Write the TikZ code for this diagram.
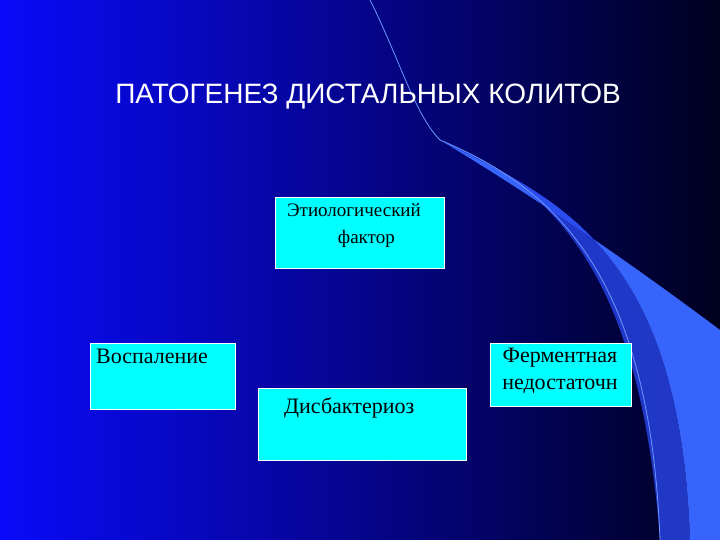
\documentclass[tikz,border=0pt]{standalone}
\usepackage{fontspec}
\setmainfont{Liberation Serif}
\newfontfamily\titlefont{Liberation Sans}
\definecolor{bgL}{RGB}{10,10,250}
\definecolor{bgM}{RGB}{5,5,170}
\definecolor{bgR}{RGB}{0,0,30}
\definecolor{sw1}{RGB}{55,100,250}
\definecolor{sw2}{RGB}{40,70,235}
\definecolor{swl}{RGB}{110,150,255}
\definecolor{cyanbox}{RGB}{0,255,255}
\begin{document}
\begin{tikzpicture}[x=1pt,y=-1pt,
  box/.style={draw=white,line width=0.8pt,fill=cyanbox,inner sep=0pt,anchor=north west},
  lbl/.style={font=\fontsize{22}{27}\selectfont,text=black,inner sep=0pt,align=center}]
\useasboundingbox (0,0) rectangle (720,540);
\shade[left color=bgL,middle color=bgM,right color=bgR] (0,0) rectangle (720,540);
\fill[sw1] (440,140) .. controls (560,200) and (680,250) .. (690,540) -- (720,540) -- (720,330) .. controls (640,270) and (540,200) .. (440,140) -- cycle;
\fill[sw2,opacity=0.8] (440,140) .. controls (560,190) and (640,280) .. (660,540) -- (690,540) .. controls (680,250) and (560,200) .. (440,140);
\draw[swl,line width=0.8pt] (370,0) .. controls (400,60) and (415,115) .. (440,140) .. controls (560,190) and (650,280) .. (660,540);
\node[text=white,font=\titlefont\fontsize{28}{32}\selectfont,inner sep=0pt] (t) at (368,97) {ПАТОГЕНЕЗ ДИСТАЛЬНЫХ КОЛИТОВ};
\node[box,minimum width=169,minimum height=71] (b1) at (275,197) {};
\node[box,minimum width=145,minimum height=66] (b2) at (90,343) {};
\node[box,minimum width=208,minimum height=72] (b3) at (258,388) {};
\node[box,minimum width=141,minimum height=63] (b4) at (490,343) {};
\node[lbl,anchor=north,font=\fontsize{19}{27}\selectfont] (l1) at (354,203) {Этиологический\\\hspace*{1.3em}фактор};
\node[lbl,anchor=north west] (l2) at (96,349) {Воспаление};
\node[lbl,anchor=north west] (l3) at (284,398) {Дисбактериоз};
\node[lbl,anchor=north] (l4) at (560,348) {Ферментная\\недостаточн};
\end{tikzpicture}
\end{document}
